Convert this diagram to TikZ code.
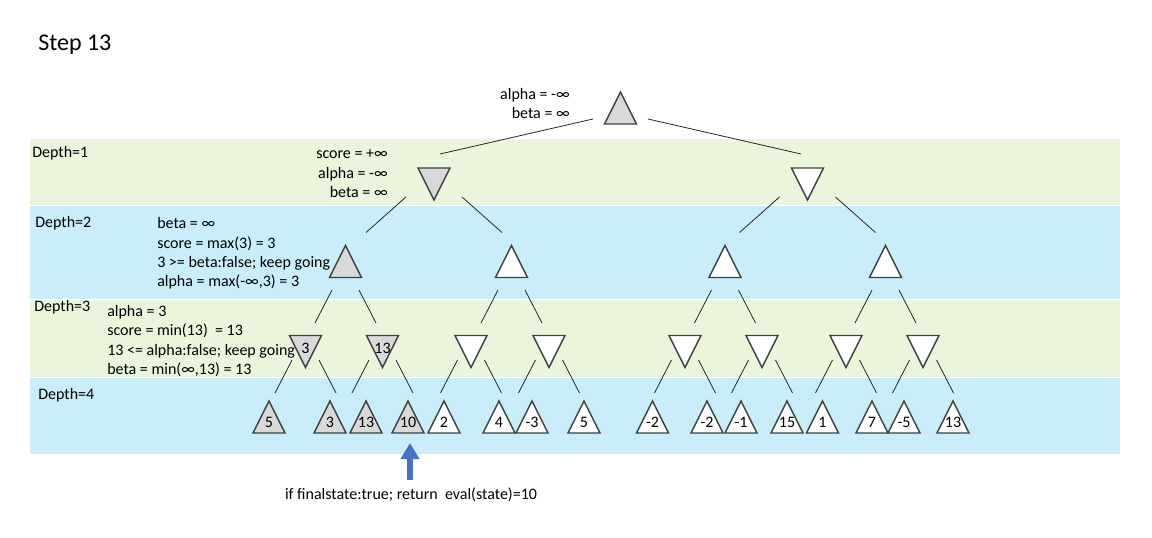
\documentclass[tikz,border=0pt]{standalone}
\usepackage{fontspec}
\setmainfont{Carlito}
\usetikzlibrary{calc,arrows.meta}

\definecolor{bandgreen}{HTML}{EAF5DC}
\definecolor{bandblue}{HTML}{C9EEFA}
\definecolor{nodegray}{HTML}{D9D9D9}
\definecolor{linegray}{HTML}{404040}
\definecolor{arrowblue}{HTML}{4472C4}

\tikzset{
  tri/.style={draw=linegray, line width=1.1pt},
  link/.style={draw=black!85, line width=0.6pt},
  note/.style={font=\fontsize{12}{14.6}\selectfont, inner sep=0pt},
  val/.style={font=\fontsize{12}{14.6}\selectfont, inner sep=0pt},
  bluearrow/.style={draw=arrowblue, line width=4.5pt, -{Triangle[width=13.5pt,length=12pt]}}
}

% max node: triangle pointing up
\newcommand{\maxnode}[4]{%
  \coordinate (#1) at (#2);
  \draw[tri, fill=#3] ($(#1)+(-16,16)$) -- ($(#1)+(0,-16)$) -- ($(#1)+(16,16)$) -- cycle;
  \node[val] (#1-v) at ($(#1)+(0,5)$) {#4};}
% min node: triangle pointing down
\newcommand{\minnode}[4]{%
  \coordinate (#1) at (#2);
  \draw[tri, fill=#3] ($(#1)+(-16,-16)$) -- ($(#1)+(0,16)$) -- ($(#1)+(16,-16)$) -- cycle;
  \node[val] (#1-v) at ($(#1)+(0,-3.5)$) {#4};}

\begin{document}
\begin{tikzpicture}[x=0.75pt,y=-0.75pt]
  \useasboundingbox (0,0) rectangle (1152,538);
  \fill[white] (0,0) rectangle (1152,538);

  % depth bands
  \fill[bandgreen] (30,139) rectangle (1120,205);
  \fill[bandblue] (30,206) rectangle (1120,298.5);
  \fill[bandgreen] (30,299.5) rectangle (1120,377);
  \fill[bandblue] (30,378) rectangle (1120,453.5);

  \node[note, anchor=west, font=\fontsize{18}{22}\selectfont] (step) at (38,45) {Step 13};
  \node[note, anchor=west] (dep1) at (32,153) {Depth=1};
  \node[note, anchor=west] (dep2) at (35,223) {Depth=2};
  \node[note, anchor=west] (dep3) at (34,307) {Depth=3};
  \node[note, anchor=west] (dep4) at (38,395) {Depth=4};

  % tree
  \maxnode{root}{620.5,108}{nodegray}{}
  \minnode{l1}{434,184}{nodegray}{}
  \minnode{r1}{807.5,184}{white}{}
  \foreach \n/\x/\f in {d2a/345.5/nodegray, d2b/511.5/white, d2c/725/white, d2d/885.5/white}
    {\maxnode{\n}{\x,261.5}{\f}{}}
  \foreach \n/\x/\f/\v in {d3a/305.5/nodegray/3, d3b/382.5/nodegray/13, d3c/471/white/{}, d3d/549/white/{},
      d3e/685/white/{}, d3f/762/white/{}, d3g/846/white/{}, d3h/923/white/{}}
    {\minnode{\n}{\x,351.5}{\f}{\v}}
  \foreach \n/\x/\f/\v in {l4a/269/nodegray/5, l4b/330/nodegray/3, l4c/366/nodegray/13, l4d/408/nodegray/10,
      l4e/444/white/2, l4f/499/white/4, l4g/532/white/-3, l4h/584/white/5,
      l4i/652.5/white/-2, l4j/707/white/-2, l4k/741/white/-1, l4l/787/white/15,
      l4m/822.5/white/1, l4n/872/white/7, l4o/904/white/-5, l4p/953/white/13}
    {\maxnode{\n}{\x,417}{\f}{\v}}

  % links
  \foreach \p/\c/\s in {root/l1/-1, root/r1/1}
    \draw[link] ($(\p)+(\s*27.5,11)$) -- ($(\p |- \c)+(\s*180.5,-30)$);
  \foreach \p/\c/\s in {l1/d2a/-1, l1/d2b/1, r1/d2c/-1, r1/d2d/1}
    \draw[link] ($(\p)+(\s*28,13)$) -- ($(\p |- \c)+(\s*68,-29)$);
  \foreach \p/\c/\s in {d2a/d3a/-1, d2a/d3b/1, d2b/d3c/-1, d2b/d3d/1,
      d2c/d3e/-1, d2c/d3f/1, d2d/d3g/-1, d2d/d3h/1}
    \draw[link] ($(\p)+(\s*13.5,28.5)$) -- ($(\p |- \c)+(\s*30.5,-28.5)$);
  \foreach \p/\c/\s in {d3a/l4a/-1, d3a/l4b/1, d3b/l4c/-1, d3b/l4d/1,
      d3c/l4e/-1, d3c/l4f/1, d3d/l4g/-1, d3d/l4h/1,
      d3e/l4i/-1, d3e/l4j/1, d3f/l4k/-1, d3f/l4l/1,
      d3g/l4m/-1, d3g/l4n/1, d3h/l4o/-1, d3h/l4p/1}
    \draw[link] ($(\p)+(\s*13.5,8.5)$) -- ($(\p |- \c)+(\s*30.5,-24)$);

  % notes
  \node[note, anchor=east, align=right] (rootinfo) at (570,103.5) {alpha = -∞\\beta = ∞};
  \node[note, anchor=east, align=right] (l1info) at (388,174) {score = +∞\\alpha = -∞\\beta = ∞};
  \node[note, anchor=west, align=left] (d2info) at (157,253.5)
    {beta = ∞\\score = max(3) = 3\\3 >= beta:false; keep going\\alpha = max(-∞,3) = 3};
  \node[note, anchor=west, align=left] (d3info) at (107,341)
    {alpha = 3\\score = min(13) \ = 13\\13 <= alpha:false; keep going\\beta = min(∞,13) = 13};

  \node[note] (final) at (411,495) {if finalstate:true; return \ eval(state)=10};
  \coordinate (tail) at (410,480);
  \draw[bluearrow] (tail) -- ($(l4d)+(2,26)$);
\end{tikzpicture}
\end{document}
